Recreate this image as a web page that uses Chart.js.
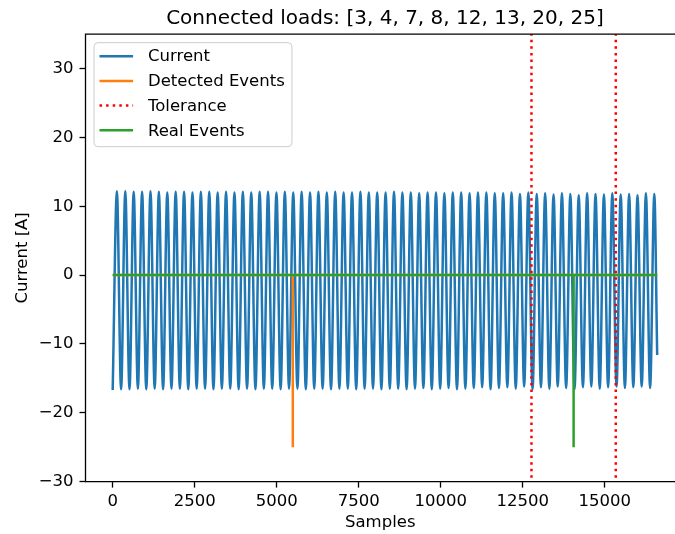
<!DOCTYPE html>
<html>
<head>
<meta charset="utf-8">
<script src="https://cdn.jsdelivr.net/npm/chart.js@4.4.0/dist/chart.umd.min.js"></script>
<style>
  html, body { margin: 0; padding: 0; overflow: hidden; background: #fff; }
  #wrap { width: 675px; height: 534px; }
</style>
</head>
<body>
<div id="wrap"><canvas id="loadChart"></canvas></div>
<script>
const samplesPerCycle = 256;
const currentPeaks = [
    12.2, 12.2, 12.1, 12.1, 12.2, 12.1, 12.0, 12.1, 12.1, 12.0, 12.1, 12.1, 12.0, 12.1, 12.0, 12.1,
    12.0, 12.1, 12.1, 12.0, 12.1, 12.0, 12.1, 12.0, 12.1, 12.0, 12.1, 12.0, 12.0, 12.1, 12.0, 12.0,
    12.0, 12.1, 12.0, 12.0, 11.9, 12.0, 12.0, 11.9, 12.0, 12.0, 11.9, 12.0, 12.0, 11.9, 11.9, 12.0,
    11.8, 12.0, 11.8, 11.9, 11.7, 11.9, 11.8, 11.6, 11.9, 11.8, 11.7, 11.9, 11.7, 11.8, 11.6, 11.9, 11.8
];
const currentTroughs = [
    -16.7, -16.6, -16.6, -16.5, -16.6, -16.5, -16.6, -16.5, -16.5, -16.6, -16.5, -16.5, -16.6, -16.5, -16.5, -16.6,
    -16.5, -16.6, -16.5, -16.5, -16.6, -16.5, -16.5, -16.6, -16.5, -16.5, -16.6, -16.5, -16.5, -16.6, -16.5, -16.5,
    -16.6, -16.5, -16.5, -16.6, -16.5, -16.4, -16.6, -16.5, -16.4, -16.6, -16.5, -16.4, -16.3, -16.6, -16.4, -16.3,
    -16.5, -16.2, -16.6, -16.3, -16.5, -16.2, -16.4, -16.6, -16.3, -16.2, -16.5, -16.3, -16.2, -16.4, -16.3, -16.2, -16.4
];
const lastSample = 16600;
const lastValue = -11.6;

const detectedEvents = [5491];
const realEvents = [14052];
const toleranceLines = [12767, 15337];
const eventValue = -25;

const xTicks = [0, 2500, 5000, 7500, 10000, 12500, 15000];
const yTicks = [-30, -20, -10, 0, 10, 20, 30];

const FONT = "'DejaVu Sans', sans-serif";

// build point lists
const currentData = [];
currentTroughs.forEach((low, k) => {
    currentData.push({ x: k * samplesPerCycle, y: low });
    currentData.push({ x: k * samplesPerCycle + samplesPerCycle / 2, y: currentPeaks[k] });
});
currentData.push({ x: lastSample, y: lastValue });

function eventSeries(events) {
    const pts = [{ x: 0, y: 0 }];
    events.forEach(s => {
        pts.push({ x: s, y: 0 }, { x: s, y: eventValue }, { x: s, y: 0 });
    });
    pts.push({ x: lastSample, y: 0 });
    return pts;
}

const tolData = [];
toleranceLines.forEach(s => {
    tolData.push({ x: s, y: -40 }, { x: s, y: 45 }, { x: s, y: null });
});

const minus = v => (v < 0 ? '\u2212' + Math.abs(v) : String(v));

// legend box inside the axes, matplotlib style
const boxLegend = {
    id: 'boxLegend',
    afterDraw(chart) {
        const { ctx, chartArea } = chart;
        const fs = 16.5;
        const items = chart.data.datasets;
        ctx.save();
        ctx.font = fs + 'px ' + FONT;
        const textW = Math.max(...items.map(d => ctx.measureText(d.label).width));
        const x0 = chartArea.left + 8.5, y0 = chartArea.top + 8.5;
        const w = 6.7 + 33.6 + 13.4 + textW + 7.5;
        const rowH = 24.7;
        const h = 104;
        ctx.beginPath();
        ctx.roundRect(x0, y0, w, h, 4);
        ctx.fillStyle = 'rgba(255,255,255,0.8)';
        ctx.fill();
        ctx.strokeStyle = '#cccccc';
        ctx.lineWidth = 1;
        ctx.stroke();
        items.forEach((d, i) => {
            const cy = y0 + 13.5 + i * rowH;
            ctx.beginPath();
            ctx.setLineDash(d.borderDash || []);
            ctx.strokeStyle = d.borderColor;
            ctx.lineWidth = d.borderWidth;
            ctx.moveTo(x0 + 5.5, cy);
            ctx.lineTo(x0 + 5.5 + 33.6, cy);
            ctx.stroke();
            ctx.setLineDash([]);
            ctx.fillStyle = '#000';
            ctx.textBaseline = 'middle';
            ctx.fillText(d.label, x0 + 54, cy + 1);
        });
        ctx.restore();
    }
};

// axes frame: the right spine lies outside the picture
const frame = {
    id: 'frame',
    afterLayout(chart) {
        // full axes run ~9 px past the picture edge, centre the title on them
        if (chart.titleBlock) chart.titleBlock.right = chart.chartArea.right + 9.4;
    },
    afterDatasetsDraw(chart) {
        const { ctx, chartArea: a } = chart;
        ctx.save();
        ctx.strokeStyle = '#000';
        ctx.lineWidth = 1.3;
        ctx.beginPath();
        ctx.moveTo(a.right + 2, a.top);
        ctx.lineTo(a.left, a.top);
        ctx.lineTo(a.left, a.bottom);
        ctx.lineTo(a.right + 2, a.bottom);
        ctx.stroke();
        ctx.restore();
    }
};

Chart.defaults.color = '#000';
Chart.defaults.font.family = FONT;

new Chart(document.getElementById('loadChart'), {
    type: 'line',
    data: {
        datasets: [
            {
                label: 'Current',
                data: currentData,
                borderColor: '#1f77b4',
                borderWidth: 2.5,
                cubicInterpolationMode: 'monotone',
                pointRadius: 0,
                order: 4
            },
            {
                label: 'Detected Events',
                data: eventSeries(detectedEvents),
                borderColor: '#ff7f0e',
                borderWidth: 2.5,
                pointRadius: 0,
                order: 3
            },
            {
                label: 'Tolerance',
                data: tolData,
                borderColor: '#ff0000',
                borderWidth: 2.5,
                borderDash: [2.5, 4.1],
                pointRadius: 0,
                spanGaps: false,
                order: 2
            },
            {
                label: 'Real Events',
                data: eventSeries(realEvents),
                borderColor: '#2ca02c',
                borderWidth: 2.5,
                pointRadius: 0,
                order: 1
            }
        ]
    },
    options: {
        responsive: true,
        maintainAspectRatio: false,
        animation: false,
        plugins: {
            legend: { display: false },
            tooltip: { enabled: false },
            title: {
                display: true,
                text: 'Connected loads: [3, 4, 7, 8, 12, 13, 20, 25]',
                fullSize: false,
                font: { size: 20, weight: 'normal' },
                color: '#000',
                padding: { top: 6.5, bottom: 3.7 }
            }
        },
        scales: {
            x: {
                type: 'linear',
                min: -829,
                max: 17143,
                afterBuildTicks: s => { s.ticks = xTicks.map(v => ({ value: v })); },
                afterFit: s => { s.height = 52.4; },
                ticks: { font: { size: 16.5 }, padding: 4, maxRotation: 0, callback: v => minus(v) },
                grid: { drawOnChartArea: false, drawTicks: true, tickLength: 6, tickColor: '#000', tickWidth: 1.3 },
                border: { display: false },
                title: { display: true, text: 'Samples', font: { size: 16.5 }, padding: { top: 0, bottom: 1 } }
            },
            y: {
                min: -30,
                max: 35,
                afterBuildTicks: s => { s.ticks = yTicks.map(v => ({ value: v })); },
                afterFit: s => { s.width = 85.5; },
                ticks: { font: { size: 16.5 }, padding: 6, callback: v => minus(v) },
                grid: { drawOnChartArea: false, drawTicks: true, tickLength: 6, tickColor: '#000', tickWidth: 1.3 },
                border: { display: false },
                title: { display: true, text: 'Current [A]', font: { size: 16.5 }, padding: { top: 13, bottom: 0 } }
            }
        }
    },
    plugins: [boxLegend, frame]
});
</script>
</body>
</html>
